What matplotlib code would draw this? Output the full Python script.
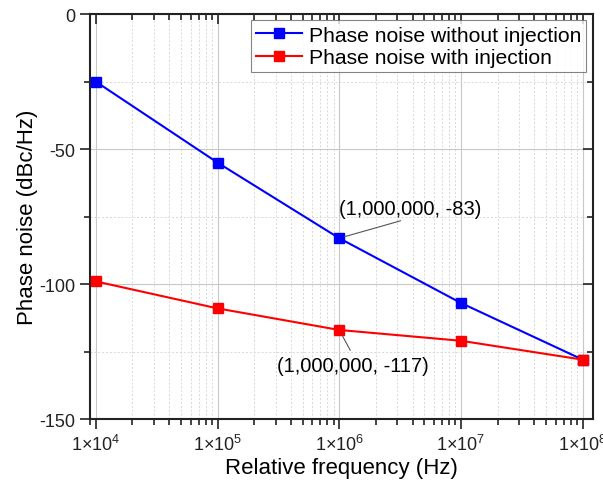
import numpy as np
import matplotlib
matplotlib.use("Agg")
import matplotlib.pyplot as plt
from matplotlib.ticker import FixedLocator, LogLocator, FuncFormatter, NullFormatter

plt.rcParams['font.family'] = ['Liberation Sans', 'DejaVu Sans']
plt.rcParams['mathtext.fontset'] = 'custom'
plt.rcParams['mathtext.rm'] = 'Liberation Sans'
plt.rcParams['mathtext.it'] = 'Liberation Sans'
plt.rcParams['axes.unicode_minus'] = False

# data
freq = [1e4, 1e5, 1e6, 1e7, 1e8]
pn_without = [-25, -55, -83, -107, -128]
pn_with = [-99, -109, -117, -121, -128]
labels = ["Phase noise without injection", "Phase noise with injection"]

fig = plt.figure(figsize=(6.03, 4.89), dpi=100)
ax = fig.add_axes([0.149, 0.141, 0.834, 0.828])

ax.plot(freq, pn_without, color='#0000ff', lw=1.5, marker='s', ms=7, label=labels[0], zorder=3)
ax.plot(freq, pn_with, color='#ff0000', lw=1.5, marker='s', ms=7, label=labels[1], zorder=3)

ax.set_xscale('log')
ax.set_xlim(8930, 1.21e8)
ax.set_ylim(-150, 0)

ax.xaxis.set_major_locator(FixedLocator(freq))
ax.xaxis.set_minor_locator(LogLocator(base=10, subs=np.arange(2, 10)))
ax.xaxis.set_minor_formatter(NullFormatter())
ax.xaxis.set_major_formatter(FuncFormatter(lambda v, p: r'$1{\times}10^{%d}$' % round(np.log10(v))))
ax.yaxis.set_major_locator(FixedLocator([0, -50, -100, -150]))
ax.yaxis.set_minor_locator(FixedLocator([-25, -75, -125]))

ax.grid(which='major', color='#c8c8c8', lw=0.8, ls='-')
ax.grid(which='minor', color='#d8d8d8', lw=0.7, ls=(0, (2, 2)))
ax.set_axisbelow(True)

for s in ax.spines.values():
    s.set_linewidth(1.5)
    s.set_color('#222222')

ax.tick_params(which='both', direction='out', labelsize=13, width=1.2, colors='#222222')
ax.tick_params(which='major', length=7)
ax.tick_params(which='minor', length=4)
ax.tick_params(which='both', top=True, right=True)
# mirrored ticks on top/right point inward
for t in ax.xaxis.get_major_ticks() + ax.xaxis.get_minor_ticks():
    t.tick2line.set_marker(matplotlib.lines.TICKDOWN)
for t in ax.yaxis.get_major_ticks() + ax.yaxis.get_minor_ticks():
    t.tick2line.set_marker(matplotlib.lines.TICKLEFT)

ax.set_xlabel("Relative frequency (Hz)", fontsize=16, labelpad=2)
ax.set_ylabel("Phase noise (dBc/Hz)", fontsize=16, labelpad=1)

leg = ax.legend(loc='upper right', fontsize=15.2, frameon=True, fancybox=False,
                handlelength=2.2, borderaxespad=0.3, borderpad=0.25,
                labelspacing=0.15, handletextpad=0.3, markerscale=1.0)
leg.get_frame().set_edgecolor('#666666')
leg.get_frame().set_linewidth(0.8)

ax.annotate("(1,000,000, -83)", xy=(freq[2], pn_without[2]), xytext=(1.0e6, -72),
            fontsize=14.5, ha='left', va='center',
            arrowprops=dict(arrowstyle='-', color='#555555', lw=0.8, shrinkA=0, shrinkB=4,
                            relpos=(0.5, 0.0)))
ax.annotate("(1,000,000, -117)", xy=(freq[2], pn_with[2]), xytext=(1.3e6, -130),
            fontsize=14.5, ha='center', va='center',
            arrowprops=dict(arrowstyle='-', color='#555555', lw=0.8, shrinkA=2, shrinkB=5,
                            relpos=(0.5, 1.0)))

fig.savefig("out.png", dpi=100)
